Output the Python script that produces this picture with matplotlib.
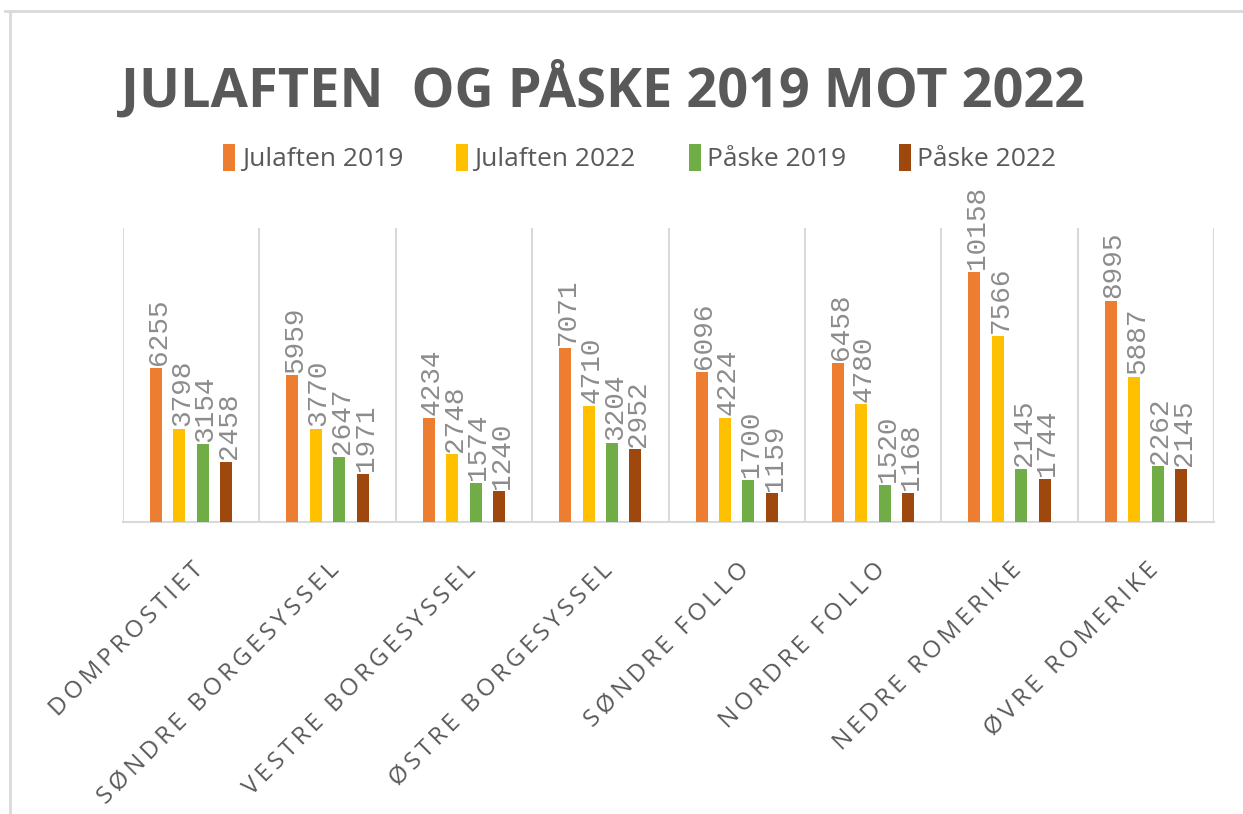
import numpy as np
import matplotlib
matplotlib.use("Agg")
import matplotlib.pyplot as plt
from matplotlib.lines import Line2D

categories = ["DOMPROSTIET", "SØNDRE BORGESYSSEL", "VESTRE BORGESYSSEL",
              "ØSTRE BORGESYSSEL", "SØNDRE FOLLO", "NORDRE FOLLO",
              "NEDRE ROMERIKE", "ØVRE ROMERIKE"]
series_names = ["Julaften 2019", "Julaften 2022", "Påske 2019", "Påske 2022"]
julaften_2019 = [6255, 5959, 4234, 7071, 6096, 6458, 10158, 8995]
julaften_2022 = [3798, 3770, 2748, 4710, 4224, 4780, 7566, 5887]
paske_2019 = [3154, 2647, 1574, 3204, 1700, 1520, 2145, 2262]
paske_2022 = [2458, 1971, 1240, 2952, 1159, 1168, 1744, 2145]
colors = ["#ED7D31", "#FFC000", "#70AD47", "#9E480E"]

W, H = 1243, 814
fig = plt.figure(figsize=(W / 100, H / 100), dpi=100)
ax = fig.add_axes([123 / W, 1 - 522 / H, (1214 - 123) / W, (522 - 228) / H])

x = np.arange(len(categories))
step = 0.172
width = 0.088
all_series = [julaften_2019, julaften_2022, paske_2019, paske_2022]
for i, (vals, name, c) in enumerate(zip(all_series, series_names, colors)):
    pos = x + (i - 1.5) * step
    bars = ax.bar(pos, vals, width=width, color=c, label=name, zorder=3)
    for b, v in zip(bars, vals):
        ax.annotate(str(v), (b.get_x() + b.get_width() / 2, b.get_height()),
                    xytext=(2, 2), textcoords="offset points",
                    rotation=90, ha="center", va="bottom",
                    fontsize=20, color="#8C8C8C", family="Liberation Mono")

# spaced-out capitals like the original axis labels
spaced = ["\u2009".join(c) for c in categories]

ax.set_xlim(-0.5, len(categories) - 0.5)
ax.set_ylim(0, 11950)
ax.set_yticks([])
ax.set_xticks(x)
ax.set_xticklabels(spaced, rotation=45, ha="right", rotation_mode="anchor",
                   fontsize=17.5, color="#595959", family=["Open Sans", "DejaVu Sans"])
ax.tick_params(axis="x", length=0, pad=26)
ax.set_xticks(np.arange(len(categories) + 1) - 0.5, minor=True)
ax.tick_params(axis="x", which="minor", length=0)
ax.grid(axis="x", which="minor", color="#D9D9D9", linewidth=1.5, zorder=0)
for s in ["top", "right", "left"]:
    ax.spines[s].set_visible(False)
ax.spines["bottom"].set_color("#D9D9D9")
ax.spines["bottom"].set_linewidth(1.5)

fig.text(603 / W, 1 - 90 / H, "JULAFTEN  OG PÅSKE 2019 MOT 2022",
         ha="center", va="center", fontsize=39, fontweight="bold",
         color="#595959", family="Open Sans")

fig.legend(loc="center", bbox_to_anchor=(640 / W, 1 - 158 / H), ncol=4,
           frameon=False, handlelength=0.45, handleheight=1.2,
           handletextpad=0.25, columnspacing=2.0,
           prop={"family": "Open Sans", "size": 19}, labelcolor="#595959")

fig.add_artist(Line2D([10 / W, 10 / W], [0, 1 - 11 / H], color="#D9D9D9", lw=2,
                      transform=fig.transFigure))
fig.add_artist(Line2D([5 / W, 1], [1 - 11 / H, 1 - 11 / H], color="#D9D9D9", lw=2,
                      transform=fig.transFigure))

fig.savefig("out.png", dpi=100)
